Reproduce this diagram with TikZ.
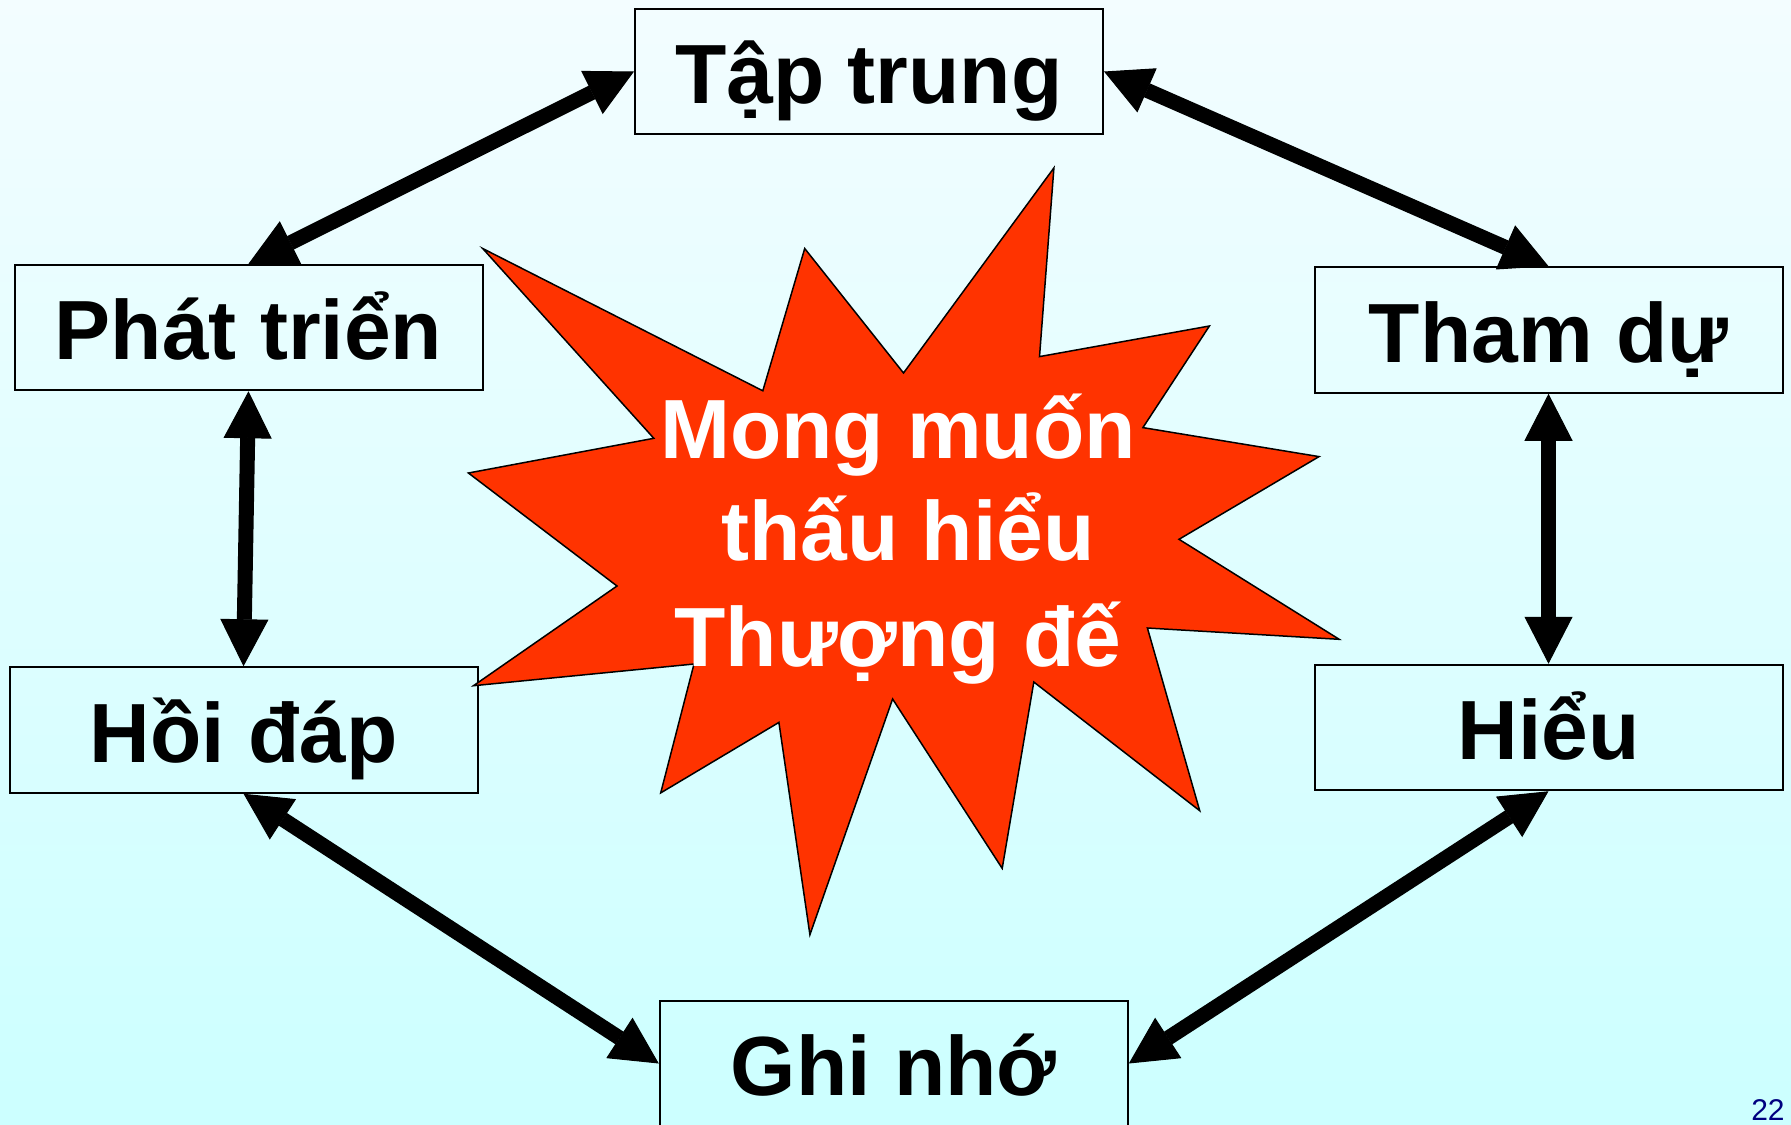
\documentclass[tikz,border=0pt]{standalone}
\usepackage{fontspec}
\setmainfont{Liberation Sans}
\usetikzlibrary{arrows.meta}
\definecolor{bgtop}{RGB}{243,253,255}
\definecolor{bgbot}{RGB}{204,255,255}
\definecolor{starred}{RGB}{255,51,0}
\definecolor{pagenavy}{RGB}{0,0,128}
\tikzset{
  box/.style={draw=black, line width=1pt, minimum width=234pt, minimum height=62.75pt,
    inner sep=0pt, font=\fontsize{42}{50}\selectfont\bfseries, text height=32pt, text depth=0pt},
  link/.style={line width=7.5pt,
    {Triangle[width=24pt,length=23.5pt,line width=0.5pt]}-{Triangle[width=24pt,length=23.5pt,line width=0.5pt]}},
  burst/.style={fill=starred, draw=black, line width=0.75pt, line join=miter},
  startext/.style={anchor=base, text=white, inner sep=0pt, font=\fontsize{42}{50}\selectfont\bfseries}
}
\begin{document}
\begin{tikzpicture}[x=0.5pt,y=-0.5pt]
\useasboundingbox (0,0) rectangle (1791,1124);
\fill[top color=bgtop, bottom color=bgbot] (0,0) rectangle (1791,1124);

\node[box] (tap)  at (869,71.5)    {Tập trung};
\node[box] (phat) at (248.5,327.5) {Phát triển};
\node[box] (tham) at (1548.5,330)  {Tham dự};
\node[box] (hoi)  at (243.5,730)   {Hồi đáp};
\node[box] (hieu) at (1548.5,727.5){Hiểu};
\node[box] (ghi)  at (893.8,1063.5){Ghi nhớ};

\draw[link] (phat.north) -- (tap.west);
\draw[link] (tap.east) -- (tham.north);
\draw[link] (phat.south) -- (hoi.north);
\draw[link] (tham.south) -- (hieu.north);
\draw[link] (hoi.south) -- (ghi.west);
\draw[link] (hieu.south) -- (ghi.east);

\draw[burst] (482.7,248.5) -- (762.8,390.8) -- (804.7,248.5) -- (903.5,373) -- (1053.9,167.9)
  -- (1039.5,356.6) -- (1209.4,326) -- (1142.9,427.6) -- (1319,456.6) -- (1179,539.3)
  -- (1339.2,639.3) -- (1147.4,628) -- (1199.7,810.7) -- (1033.8,682) -- (1002.2,868.4)
  -- (892.6,699) -- (809.9,934.7) -- (778.9,722.4) -- (660.7,792.9) -- (694,664)
  -- (473.5,685.7) -- (617,586) -- (468.4,473) -- (653.8,438.3) -- cycle;

\node[startext] (wish1) at (898,458.7) {Mong muốn};
\node[startext] (wish2) at (908,560.7) {thấu hiểu};
\node[startext] (wish3) at (898,666.3) {Thượng đế};

\node[anchor=base east, inner sep=0pt, text=pagenavy, font=\fontsize{15}{18}\selectfont] (page) at (1785,1120) {22};
\end{tikzpicture}
\end{document}
